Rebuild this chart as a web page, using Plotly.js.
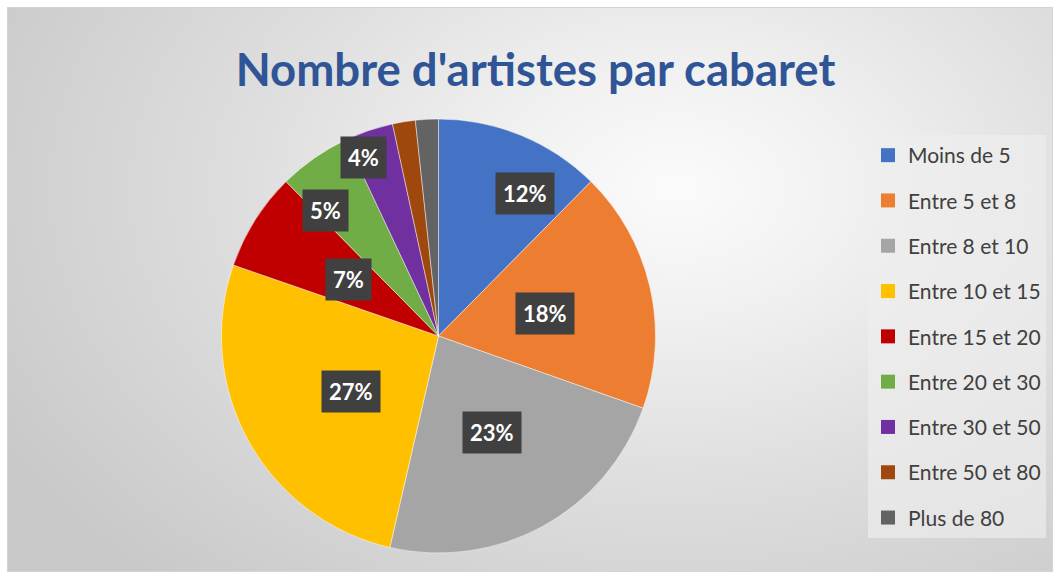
<!DOCTYPE html>
<html>
<head>
<meta charset="utf-8">
<script src="https://cdn.plot.ly/plotly-3.0.1.min.js"></script>
<style>
  html, body { margin: 0; padding: 0; background: #ffffff; }
  #wrap { position: absolute; left: 0; top: 0; width: 1059px; height: 578px; background: #ffffff; overflow: hidden; }
  #panel { position: absolute; left: 7px; top: 7px; width: 1044px; height: 563px;
    border: 1px solid #d4d4d4;
    background: radial-gradient(ellipse 75% 95% at 64% 32%, #fbfbfb 0%, #f1f1f1 22%, #dedede 55%, #c8c8c8 100%); }
  #chart { position: absolute; left: 0; top: 0; width: 1059px; height: 578px; }
</style>
</head>
<body>
<div id="wrap">
  <div id="panel"></div>
  <div id="chart"></div>
</div>
<script>
// ---- data ----
const categories = ["Moins de 5", "Entre 5 et 8", "Entre 8 et 10", "Entre 10 et 15", "Entre 15 et 20",
                    "Entre 20 et 30", "Entre 30 et 50", "Entre 50 et 80", "Plus de 80"];
const values = [12.4, 18.0, 23.2, 26.7, 7.3, 5.4, 3.6, 1.7, 1.7];
const titleText = "Nombre d'artistes par cabaret";

// ---- style ----
const colors = ["#4472C4", "#ED7D31", "#A5A5A5", "#FFC000", "#C00000", "#70AD47", "#7030A0", "#9E480E", "#636363"];
const showLabel = [true, true, true, true, true, true, true, false, false];
const labelRadius = [0.77, 0.50, 0.51, 0.48, 0.49, 0.78, 0.89, 0.5, 0.5];
const labelNudgeDeg = [9, 1, 0, -3.5, 0, -7, -4, 0, 0];

const W = 1059, H = 578;
const domX = [221 / W, 656 / W];
const domY = [25 / H, 459 / H];

const total = values.reduce((a, b) => a + b, 0);

const pieTrace = {
  type: 'pie',
  values: values,
  labels: categories,
  sort: false,
  direction: 'clockwise',
  rotation: 0,
  marker: { colors: colors, line: { color: 'rgba(255,255,255,0.45)', width: 1 } },
  textinfo: 'none',
  hoverinfo: 'label+percent',
  showlegend: false,
  domain: { x: domX, y: domY }
};

// legend entries drawn by the library through empty marker traces
const legendTraces = categories.map((c, i) => ({
  type: 'scatter', mode: 'markers', x: [null], y: [null],
  name: c, legendgroup: c, hoverinfo: 'skip',
  marker: { symbol: 'square', size: 14, color: colors[i] }
}));

// percentage labels placed from the data (slice mid-angles)
const cx = (domX[0] + domX[1]) / 2 * W;
const cy = H - (domY[0] + domY[1]) / 2 * H;
const R = Math.min((domX[1] - domX[0]) * W, (domY[1] - domY[0]) * H) / 2;
const annotations = [];
let cum = 0;
values.forEach((v, i) => {
  const mid = (cum + v / 2) / total;
  cum += v;
  if (!showLabel[i]) return;
  const a = (mid * 360 + labelNudgeDeg[i]) * Math.PI / 180;
  const px = cx + R * labelRadius[i] * Math.sin(a);
  const py = cy - R * labelRadius[i] * Math.cos(a);
  annotations.push({
    xref: 'paper', yref: 'paper', x: px / W, y: 1 - py / H,
    xanchor: 'center', yanchor: 'middle', showarrow: false,
    text: Math.round(v / total * 100) + '%',
    font: { family: 'Lato, "Open Sans", sans-serif', size: 22, color: '#ffffff', weight: 'bold' },
    bgcolor: '#404040', borderpad: 7
  });
});

const layout = {
  width: W, height: H,
  margin: { l: 0, r: 0, t: 0, b: 0 },
  paper_bgcolor: 'rgba(0,0,0,0)',
  plot_bgcolor: 'rgba(0,0,0,0)',
  title: {
    text: titleText,
    font: { family: 'Lato, "Open Sans", sans-serif', size: 45.5, color: '#2F5597', weight: 'bold' },
    x: 0.5057, xanchor: 'center', xref: 'paper',
    y: 1 - 70 / H, yanchor: 'middle', yref: 'container'
  },
  xaxis: { visible: false, fixedrange: true },
  yaxis: { visible: false, fixedrange: true },
  showlegend: true,
  legend: {
    x: 868 / W, xanchor: 'left', y: 1 - 135 / H, yanchor: 'top',
    bgcolor: 'rgba(238,238,238,0.65)', borderwidth: 0,
    font: { family: 'Lato, "Open Sans", sans-serif', size: 21, color: '#404040' },
    traceorder: 'grouped', tracegroupgap: 15, itemclick: false, itemdoubleclick: false
  },
  annotations: annotations
};

Plotly.newPlot('chart', [pieTrace].concat(legendTraces), layout, { displayModeBar: false, staticPlot: true });
</script>
</body>
</html>
